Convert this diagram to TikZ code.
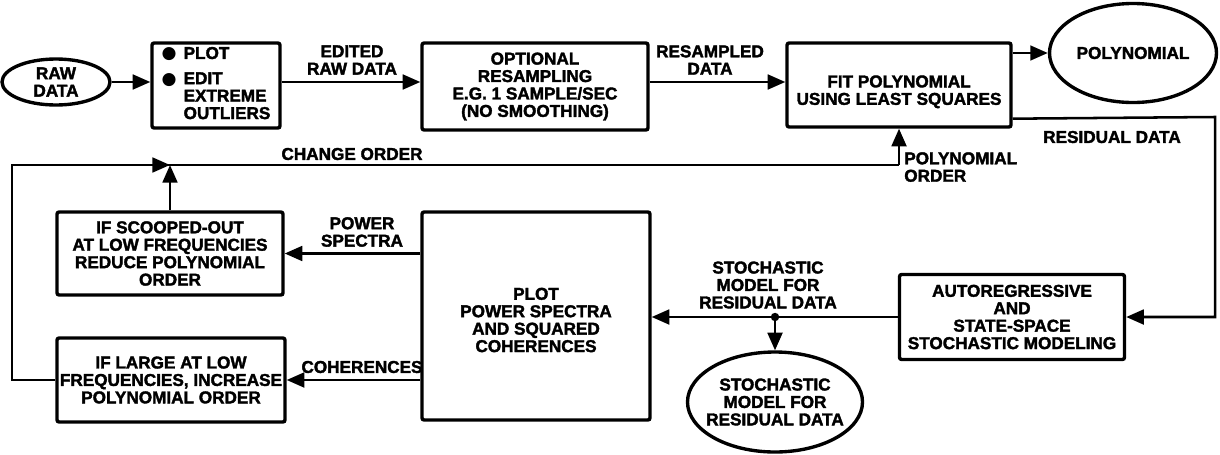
\documentclass[tikz,border=0pt]{standalone}
\usepackage{fontspec}
\setmainfont{Liberation Sans}[BoldFeatures={FakeBold=2}]
\newfontfamily\dotfont{DejaVu Sans}
\usetikzlibrary{arrows.meta,shapes.geometric}

\begin{document}
\begin{tikzpicture}[x=0.025cm,y=-0.025cm,
  font=\bfseries\fontsize{12.2}{12.4}\selectfont,
  box/.style={draw,line width=2.4pt,rounded corners=1.5pt,align=center,inner sep=0pt},
  oval/.style={draw,ellipse,line width=2.4pt,inner sep=0pt},
  lbl/.style={align=center,inner sep=0pt},
  conn/.style={line width=1.8pt},
  arr/.style={conn,-{Triangle[length=12.5pt,width=10.5pt]}}]
\useasboundingbox (0,0) rectangle (1220,454);

% ---- top row ----
\node[oval,minimum width=108*0.025cm,minimum height=46*0.025cm] (raw) at (56,82) {};
\node[lbl] (rawtxt) at (raw) {RAW\\DATA};

\node[box,minimum width=128*0.025cm,minimum height=85*0.025cm] (edit) at (216,85.5)
  {\begin{tabular}{@{}l@{\hspace{5pt}}l@{}}{\dotfont●}&PLOT\\[5.5pt]{\dotfont●}&EDIT\\&EXTREME\\&OUTLIERS\end{tabular}};

\node[box,minimum width=226*0.025cm,minimum height=87*0.025cm] (opt) at (535,86.5)
  {OPTIONAL\\RESAMPLING\\E.G. 1 SAMPLE/SEC\\(NO SMOOTHING)};

\node[box,minimum width=224*0.025cm,minimum height=84*0.025cm] (fit) at (899,85) {};
\node[lbl] (fittxt) at ([yshift=-0.17cm]fit.center) {FIT POLYNOMIAL\\USING LEAST SQUARES};

\node[oval,minimum width=167*0.025cm,minimum height=99*0.025cm] (poly) at (1133,53) {};
\node[lbl] (polytxt) at (poly) {POLYNOMIAL};

% ---- lower part ----
\node[box,minimum width=226*0.025cm,minimum height=83*0.025cm] (scoop) at (170,253.5)
  {IF SCOOPED-OUT\\AT LOW FREQUENCIES\\REDUCE POLYNOMIAL\\ORDER};

\node[box,minimum width=228*0.025cm,minimum height=84*0.025cm] (large) at (171,380)
  {IF LARGE AT LOW\\FREQUENCIES, INCREASE\\POLYNOMIAL ORDER};

\node[box,minimum width=228*0.025cm,minimum height=208*0.025cm] (plot) at (536,316) {};
\node[lbl] (plottxt) at ([yshift=-0.1cm]plot.center) {PLOT\\POWER SPECTRA\\AND SQUARED\\COHERENCES};

\node[box,minimum width=225*0.025cm,minimum height=85*0.025cm] (ar) at (1012,317)
  {AUTOREGRESSIVE\\AND\\STATE-SPACE\\STOCHASTIC MODELING};

\node[oval,minimum width=175*0.025cm,minimum height=100*0.025cm] (stoch) at (775,402) {};
\node[lbl] (stochtxt) at (stoch) {STOCHASTIC\\MODEL FOR\\RESIDUAL DATA};

% ---- connectors of the top row ----
\draw[arr] (raw.east) -- (edit.west |- raw.east);
\draw[arr] (edit.east |- raw.east) -- (opt.west |- raw.east);
\draw[arr] (opt.east |- raw.east) -- (fit.west |- raw.east);
\draw[arr] (fit.east |- poly.west) -- (poly.west);
\node[lbl] (editedlbl) at (352,60) {EDITED\\RAW DATA};
\node[lbl] (resamplbl) at (710,60) {RESAMPLED\\DATA};

% ---- residual data path ----
\coordinate (rturn) at (1215,117);
\draw[arr] ([yshift=0.25cm]fit.south east) -- (rturn) |- (ar.east);
\node[lbl] (reslbl) at (1112,137) {RESIDUAL DATA};

% ---- stochastic model output ----
\draw[arr] (ar.west) -- (plot.east |- ar.west);
\fill (stoch.north |- ar.west) circle (3pt);
\draw[arr] (stoch.north |- ar.west) -- (stoch.north);
\node[lbl] (stochlbl) at (768,285) {STOCHASTIC\\MODEL FOR\\RESIDUAL DATA};

% ---- spectra and coherences ----
\draw[arr] (plot.west |- scoop.east) -- (scoop.east);
\node[lbl] (powlbl) at (362,232) {POWER\\SPECTRA};
\draw[arr] (plot.west |- large.east) -- (large.east);
\node[lbl] (cohlbl) at (362,367) {COHERENCES};

% ---- order feedback loop ----
\coordinate (fbl) at (12,165);
\draw[conn] (large.west) -| (fbl) -- (fit.south |- fbl);
\draw[arr] (fbl) -- (scoop.north |- fbl);
\draw[arr] (scoop.north) -- (scoop.north |- fbl);
\draw[arr] (fit.south |- fbl) -- (fit.south);
\node[lbl] (chglbl) at (352,154) {CHANGE ORDER};
\node[lbl,align=left,anchor=north west] (ordlbl) at (904,152) {POLYNOMIAL\\ORDER};
\end{tikzpicture}
\end{document}
